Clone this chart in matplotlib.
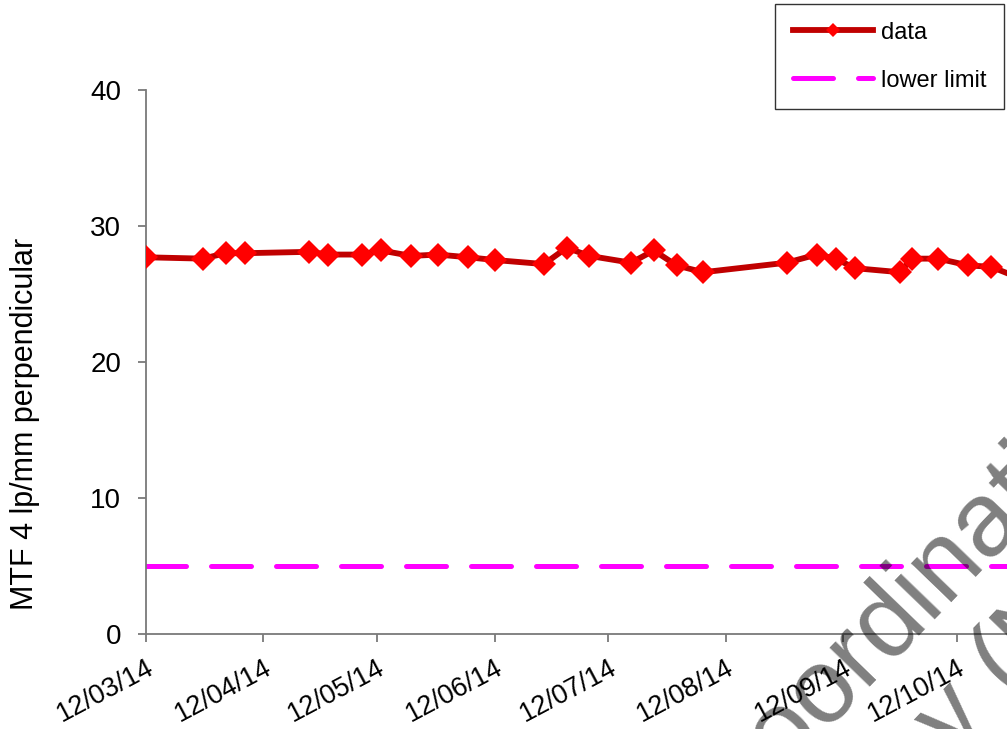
import datetime as dt
import matplotlib
matplotlib.use("Agg")
import matplotlib.pyplot as plt
import matplotlib.dates as mdates

plt.rcParams['font.family'] = ['Liberation Sans', 'DejaVu Sans']

# Measurement dates (dd/mm/yy) and MTF results
dates = [
    "12/03/14", "27/03/14", "02/04/14", "07/04/14", "24/04/14", "29/04/14",
    "08/05/14", "13/05/14", "21/05/14", "28/05/14", "05/06/14", "12/06/14",
    "25/06/14", "01/07/14", "07/07/14", "18/07/14", "24/07/14", "30/07/14",
    "06/08/14", "28/08/14", "05/09/14", "10/09/14", "15/09/14", "27/09/14",
    "30/09/14", "07/10/14", "15/10/14", "21/10/14", "30/10/14",
]
mtf = [
    27.7, 27.6, 28.0, 28.0, 28.1, 27.9,
    27.9, 28.2, 27.8, 27.9, 27.7, 27.5,
    27.2, 28.4, 27.8, 27.3, 28.2, 27.1,
    26.6, 27.3, 27.9, 27.6, 26.9, 26.6,
    27.6, 27.6, 27.1, 27.0, 26.0,
]
lower_limit = 5
y_ticks = [0, 10, 20, 30, 40]
y_label = "MTF 4 lp/mm perpendicular"

x = [dt.datetime.strptime(d, "%d/%m/%y") for d in dates]

W, H = 1007, 729
fig = plt.figure(figsize=(W / 100, H / 100), dpi=100)

# plot area: left edge at 12/03/14, runs on past the right border
left_px, top_px, bottom_px, right_px = 146, 90, 634, 1050
ax = fig.add_axes([left_px / W, 1 - bottom_px / H,
                   (right_px - left_px) / W, (bottom_px - top_px) / H])
start = dt.datetime(2014, 3, 12)
ax.set_xlim(start, start + dt.timedelta(days=(right_px - left_px) / 3.79))
ax.set_ylim(0, 40)

axis_grey = "#7a7a7a"
for side in ("top", "right"):
    ax.spines[side].set_visible(False)
for side in ("left", "bottom"):
    ax.spines[side].set_color(axis_grey)
    ax.spines[side].set_linewidth(1.3)

ax.plot(x, mtf, color="#C00000", lw=4.2, marker="D", ms=12,
        mfc="#FF0000", mec="#FF0000", mew=0, label="data", zorder=3)
ax.axhline(lower_limit, color="#FF00FF", lw=3.6, dashes=(8, 5),
           dash_capstyle="round", label="lower limit", zorder=2)

ax.set_yticks(y_ticks)
ax.xaxis.set_major_locator(mdates.MonthLocator(bymonthday=12))
ax.xaxis.set_major_formatter(mdates.DateFormatter("%d/%m/%y"))
ax.tick_params(axis="both", direction="out", length=6, width=1.3,
               color=axis_grey, labelsize=20)
ax.tick_params(axis="x", labelsize=19.5, pad=9)
ax.tick_params(axis="y", pad=12)
for lab in ax.get_xticklabels():
    lab.set_rotation(28)
    lab.set_ha("right")
    lab.set_va("top")
    lab.set_rotation_mode("anchor")

fig.text(25 / W, 1 - 424 / H, y_label, rotation=90, ha="center",
         va="center", fontsize=22)

leg = ax.legend(loc="upper left", bbox_to_anchor=(775 / W, 1 - 4 / H),
                bbox_transform=fig.transFigure, borderaxespad=0,
                fontsize=17, frameon=True, fancybox=False,
                edgecolor="black", handlelength=3.4, handletextpad=0.35,
                labelspacing=1.1, borderpad=0.75, markerscale=0.6)
leg.get_frame().set_linewidth(1.0)

# watermark
fig.text(730 / W, 1 - 826 / H, "Coordination", rotation=46,
         rotation_mode="anchor", ha="left", va="baseline",
         fontsize=76, color="black", alpha=0.5, zorder=10)
fig.text(820 / W, 1 - 898 / H, "Copy (Not", rotation=46,
         rotation_mode="anchor", ha="left", va="baseline",
         fontsize=76, color="black", alpha=0.5, zorder=10)

fig.savefig("out.png", dpi=100)
